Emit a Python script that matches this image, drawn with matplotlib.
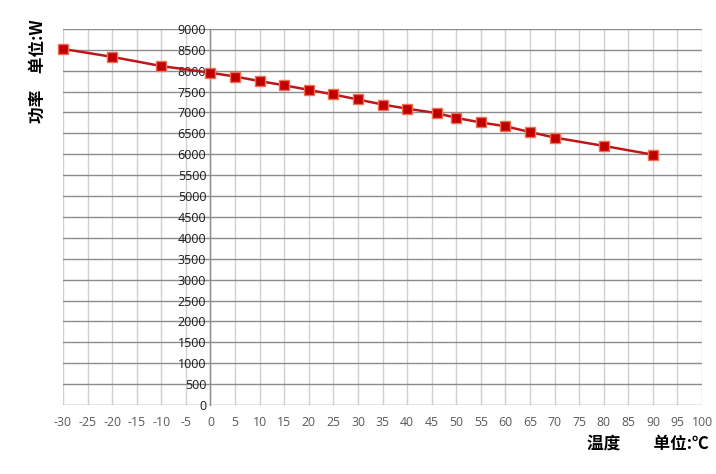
import numpy as np
import matplotlib
matplotlib.use("Agg")
import matplotlib.pyplot as plt

# temperature (C) vs power (W)
temps = [-30, -20, -10, 0, 5, 10, 15, 20, 25, 30, 35, 40, 46, 50, 55, 60, 65, 70, 80, 90]
power = [8520, 8330, 8110, 7950, 7860, 7750, 7650, 7540, 7430, 7310, 7190, 7090, 6985,
         6870, 6760, 6670, 6530, 6400, 6200, 5990]

x_ticks = list(range(-30, 101, 5))
y_ticks = list(range(0, 9001, 500))

plt.rcParams['font.family'] = ['Open Sans', 'DejaVu Sans']
plt.rcParams['axes.unicode_minus'] = False

fig = plt.figure(figsize=(7.16, 4.74), dpi=100)
ax = fig.add_axes([0.088, 0.1456, 0.8925, 0.7935])

ax.set_xlim(-30, 100)
ax.set_ylim(0, 9000)
ax.set_xticks(x_ticks)
ax.set_yticks(y_ticks)

# grid: vertical light, horizontal darker
for xv in x_ticks:
    ax.axvline(xv, color='#d0d0d0', lw=1.0, zorder=0)
for yv in y_ticks:
    ax.axhline(yv, color='#8c8c8c', lw=1.0, zorder=0)

for s in ['top', 'right', 'bottom']:
    ax.spines[s].set_visible(False)
ax.spines['left'].set_position(('data', 0))
ax.spines['left'].set_color('#8c8c8c')
ax.spines['left'].set_linewidth(1.0)

ax.tick_params(axis='both', length=0)
ax.tick_params(axis='y', pad=3, labelsize=9, labelcolor='#1a1a1a')
ax.tick_params(axis='x', pad=8, labelsize=8.8, labelcolor='#595959')

ax.plot(temps, power, color='#c0161a', lw=1.8, marker='s', markersize=6.5,
        markerfacecolor='#c00000', markeredgecolor='#f07050', markeredgewidth=1.0,
        zorder=3, clip_on=False)

cjk = ['Noto Sans CJK SC', 'DejaVu Sans']
fig.text(0.053, 0.85, '功率\u3000单位:W', rotation=90, ha='center', va='center',
         fontsize=12, fontweight='bold', family=cjk)
fig.text(0.99, 0.065, '温度\u3000\u3000单位:℃', ha='right', va='center',
         fontsize=12, fontweight='bold', family=cjk)

fig.savefig('out.png', dpi=100)
